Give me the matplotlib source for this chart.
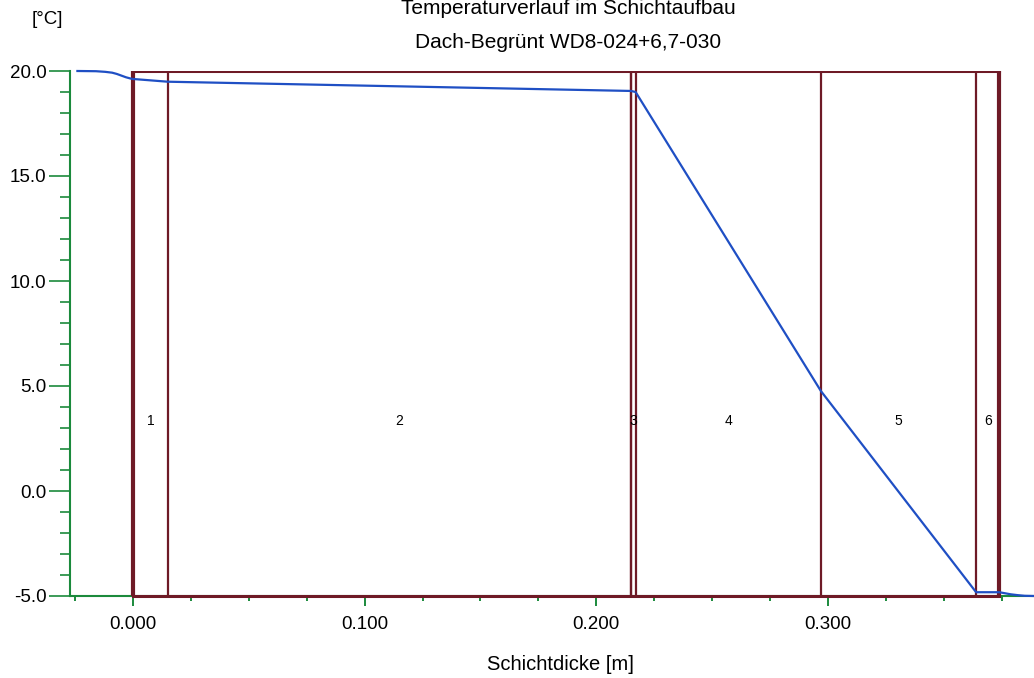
import numpy as np
import matplotlib.pyplot as plt
from matplotlib.ticker import MultipleLocator

plt.rcParams['font.family'] = ['Liberation Sans', 'DejaVu Sans']

# layer boundaries [m] and layer numbers
boundaries = [0.0, 0.015, 0.215, 0.217, 0.297, 0.364, 0.374]
layer_names = ['1', '2', '3', '4', '5', '6']

# temperature profile through the roof build-up
pos = [-0.024, -0.016, -0.012, -0.009, -0.007, -0.005, -0.003, -0.001, 0.0,
       0.015, 0.215, 0.217, 0.297, 0.364, 0.374, 0.376, 0.379, 0.382,
       0.385, 0.389]
temp = [20.0, 19.99, 19.96, 19.92, 19.86, 19.78, 19.7, 19.64, 19.62,
        19.49, 19.05, 19.0, 4.76, -4.82, -4.82, -4.86, -4.92, -4.96,
        -4.99, -5.0]

blue = '#1f4fc4'
maroon = '#6e1a26'
green = '#1b8a3c'

fig = plt.figure(figsize=(10.34, 6.78), dpi=100)
ax = fig.add_axes([70/1034, 1 - 596/678, 1 - 70/1034, 525/678])

ax.set_xlim(-0.0272, 0.389)
ax.set_ylim(-5, 20)

# layer rectangle and boundaries
ax.plot([boundaries[0], boundaries[-1]], [20, 20], color=maroon, lw=2.2, zorder=3)
ax.plot([boundaries[0], boundaries[-1]], [-5, -5], color=maroon, lw=2.2, zorder=3, clip_on=False)
for i, b in enumerate(boundaries):
    lw = 3.0 if i in (0, len(boundaries) - 1) else 1.6
    ax.plot([b, b], [-5, 20], color=maroon, lw=lw, zorder=3)
ax.plot([0.2148, 0.2148], [-5, 20], color=maroon, lw=1.6, zorder=3)

for i, name in enumerate(layer_names):
    mid = (boundaries[i] + boundaries[i + 1]) / 2
    ax.text(mid, 3.33, name, ha='center', va='center', fontsize=10, zorder=5)

ax.plot(pos, temp, color=blue, lw=1.6, zorder=4, clip_on=False)

# axes styling
for s in ['top', 'right']:
    ax.spines[s].set_visible(False)
ax.spines['left'].set_color(green)
ax.spines['bottom'].set_color(green)
ax.spines['left'].set_linewidth(1.5)
ax.spines['bottom'].set_linewidth(1.5)

ax.yaxis.set_minor_locator(MultipleLocator(1))
ax.xaxis.set_minor_locator(MultipleLocator(0.025))
ax.set_yticks(np.arange(-5, 21, 5))
ax.set_yticklabels([f'{v:.1f}' for v in np.arange(-5, 21, 5)])
ax.set_xticks([0.0, 0.1, 0.2, 0.3])
ax.set_xticklabels(['0.000', '0.100', '0.200', '0.300'])
ax.tick_params(axis='y', which='major', length=15, width=1.2, color=green, labelsize=13.5, pad=2)
ax.tick_params(axis='y', which='minor', length=7, width=1.2, color=green)
ax.tick_params(axis='x', which='major', length=7.5, width=1.4, color=green, labelsize=13.5, pad=7)
ax.tick_params(axis='x', which='minor', length=3.5, width=1.4, color=green)

fig.text(560/1034, 1 - 665/678, 'Schichtdicke [m]', ha='center', va='center', fontsize=14.5)
fig.text(47/1034, 1 - 20/678, '[°C]', ha='center', va='center', fontsize=13.5)
fig.text(568/1034, 1 - 8/678, 'Temperaturverlauf im Schichtaufbau', ha='center', va='center', fontsize=15)
fig.text(568/1034, 1 - 42/678, 'Dach-Begrünt WD8-024+6,7-030', ha='center', va='center', fontsize=15)

fig.savefig('out.png', dpi=100)
